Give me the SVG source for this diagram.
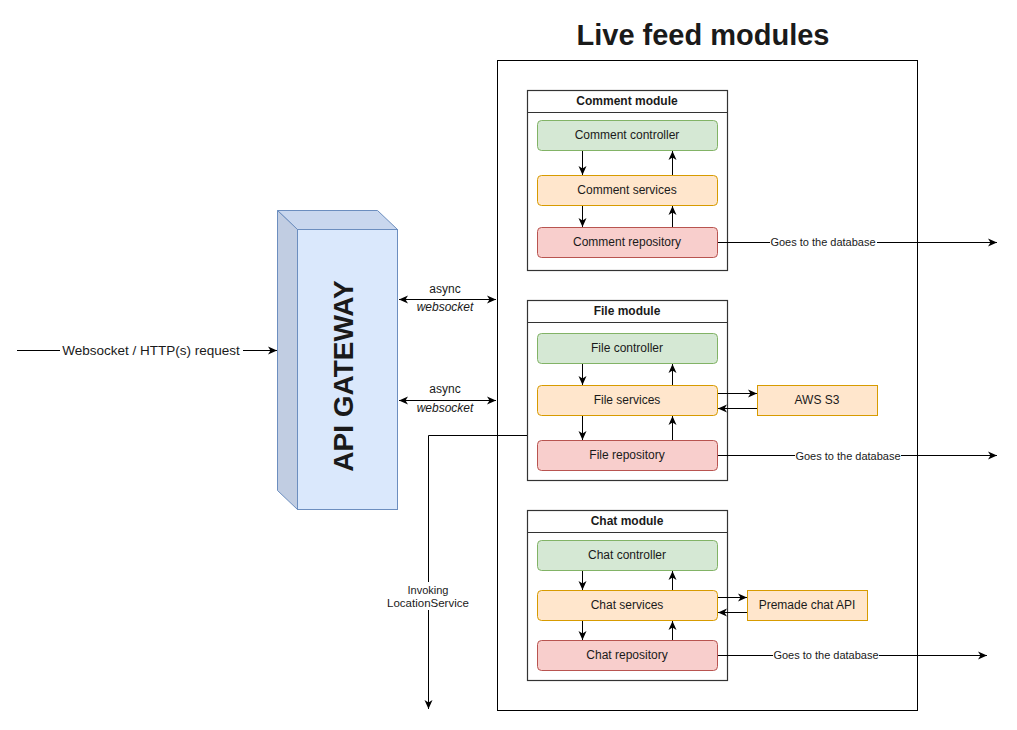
<svg xmlns="http://www.w3.org/2000/svg" width="1017" height="730" viewBox="0 0 1017 730">
<defs>
<marker id="arr" markerUnits="userSpaceOnUse" markerWidth="10" markerHeight="10" refX="9" refY="5" orient="auto-start-reverse" viewBox="0 0 10 10">
<path d="M0,1 L9,5 L0,9 L2.5,5 z" fill="#000"/>
</marker>
</defs>
<style>
text{font-family:"Liberation Sans",Arial,sans-serif;fill:#1a1a1a}
.t{font-size:12px;text-anchor:middle}
.h{font-size:12px;font-weight:bold;text-anchor:middle}
.e{font-size:11px;text-anchor:middle}
.c{fill:#d5e8d4;stroke:#82b366;stroke-width:1}
.s{fill:#ffe6cc;stroke:#d79b00;stroke-width:1}
.r{fill:#f8cecc;stroke:#b85450;stroke-width:1}
.m{fill:#fff;stroke:#333;stroke-width:1.2}
.ln{fill:none;stroke:#000;stroke-width:1;marker-end:url(#arr)}
.bg{fill:#fff}
</style>
<rect width="1017" height="730" fill="#fff"/>

<g id="outer">
<rect x="497.5" y="60.5" width="420" height="650" fill="#fff" stroke="#000" stroke-width="1"/>
<text x="703" y="45" style="font-size:29px;font-weight:bold;text-anchor:middle">Live feed modules</text>
</g>

<g id="gateway">
<polygon points="277.5,210.5 377.5,210.5 397.5,229.5 297.5,229.5" fill="#c9d7ee" stroke="#6c8ebf"/>
<polygon points="277.5,210.5 297.5,229.5 297.5,509.5 277.5,490.5" fill="#c1cde2" stroke="#6c8ebf"/>
<rect x="297.5" y="229.5" width="100" height="280" fill="#dae8fc" stroke="#6c8ebf"/>
<text transform="translate(353,376) rotate(-90)" style="font-size:28px;font-weight:bold;text-anchor:middle">API GATEWAY</text>
</g>

<g id="comment-module">
<rect class="m" x="527.5" y="90.5" width="200" height="180"/>
<line x1="527.5" y1="112.5" x2="727.5" y2="112.5" stroke="#333" stroke-width="1.2"/>
<text class="h" x="627" y="105">Comment module</text>
</g>
<g id="comment-controller"><rect class="c" x="537.5" y="120.5" width="180" height="30" rx="4"/><text class="t" x="627" y="139">Comment controller</text></g>
<g id="comment-services"><rect class="s" x="537.5" y="175.5" width="180" height="30" rx="4"/><text class="t" x="627" y="194">Comment services</text></g>
<g id="comment-repository"><rect class="r" x="537.5" y="227.5" width="180" height="30" rx="4"/><text class="t" x="627" y="246">Comment repository</text></g>

<g id="file-module">
<rect class="m" x="527.5" y="300.5" width="200" height="180"/>
<line x1="527.5" y1="322.5" x2="727.5" y2="322.5" stroke="#333" stroke-width="1.2"/>
<text class="h" x="627" y="315">File module</text>
</g>
<g id="file-controller"><rect class="c" x="537.5" y="333.5" width="180" height="30" rx="4"/><text class="t" x="627" y="352">File controller</text></g>
<g id="file-services"><rect class="s" x="537.5" y="385.5" width="180" height="30" rx="4"/><text class="t" x="627" y="404">File services</text></g>
<g id="file-repository"><rect class="r" x="537.5" y="440.5" width="180" height="30" rx="4"/><text class="t" x="627" y="459">File repository</text></g>
<g id="aws-s3"><rect class="s" x="757.5" y="385.5" width="120" height="30"/><text class="t" x="817" y="404">AWS S3</text></g>

<g id="chat-module">
<rect class="m" x="527.5" y="510.5" width="200" height="170"/>
<line x1="527.5" y1="532.5" x2="727.5" y2="532.5" stroke="#333" stroke-width="1.2"/>
<text class="h" x="627" y="525">Chat module</text>
</g>
<g id="chat-controller"><rect class="c" x="537.5" y="540.5" width="180" height="30" rx="4"/><text class="t" x="627" y="559">Chat controller</text></g>
<g id="chat-services"><rect class="s" x="537.5" y="590.5" width="180" height="30" rx="4"/><text class="t" x="627" y="609">Chat services</text></g>
<g id="chat-repository"><rect class="r" x="537.5" y="640.5" width="180" height="30" rx="4"/><text class="t" x="627" y="659">Chat repository</text></g>
<g id="premade-chat-api"><rect class="s" x="747.5" y="590.5" width="120" height="30"/><text class="t" x="807" y="609">Premade chat API</text></g>

<g id="connectors">
<path class="ln" d="M17,350.5 H277"/>
<path class="ln" d="M399,299.5 H496" style="marker-start:url(#arr)"/>
<path class="ln" d="M399,400.5 H496" style="marker-start:url(#arr)"/>
<path class="ln" d="M527,435.5 H428.5 V709"/>
<path class="ln" d="M718,242.5 H997"/>
<path class="ln" d="M718,455.5 H997"/>
<path class="ln" d="M718,655.5 H987"/>
<path class="ln" d="M582.5,151 V175"/>
<path class="ln" d="M672.5,175 V151"/>
<path class="ln" d="M582.5,206 V227"/>
<path class="ln" d="M672.5,227 V206"/>
<path class="ln" d="M582.5,364 V385"/>
<path class="ln" d="M672.5,385 V364"/>
<path class="ln" d="M582.5,416 V440"/>
<path class="ln" d="M672.5,440 V416"/>
<path class="ln" d="M718,393.5 H757"/>
<path class="ln" d="M757,408.5 H718"/>
<path class="ln" d="M582.5,571 V590"/>
<path class="ln" d="M672.5,590 V571"/>
<path class="ln" d="M582.5,621 V640"/>
<path class="ln" d="M672.5,640 V621"/>
<path class="ln" d="M718,597.5 H747"/>
<path class="ln" d="M747,612.5 H718"/>
</g>

<g id="labels">
<rect class="bg" x="60" y="342" width="183" height="16"/>
<text x="151" y="355" style="font-size:13.5px;text-anchor:middle">Websocket / HTTP(s) request</text>
<text class="t" x="445" y="293">async</text>
<text class="t" x="445" y="311" font-style="italic">websocket</text>
<text class="t" x="445" y="393">async</text>
<text class="t" x="445" y="412" font-style="italic">websocket</text>
<rect class="bg" x="385" y="582" width="86" height="28"/>
<text x="428" y="594" style="font-size:11px;text-anchor:middle">Invoking</text>
<text x="428" y="607" style="font-size:11.5px;text-anchor:middle">LocationService</text>
<rect class="bg" x="770" y="236" width="107" height="13"/>
<text class="e" x="823" y="246">Goes to the database</text>
<rect class="bg" x="795" y="449" width="106" height="13"/>
<text class="e" x="848" y="460">Goes to the database</text>
<rect class="bg" x="773" y="649" width="106" height="13"/>
<text class="e" x="826" y="659">Goes to the database</text>
</g>
</svg>
